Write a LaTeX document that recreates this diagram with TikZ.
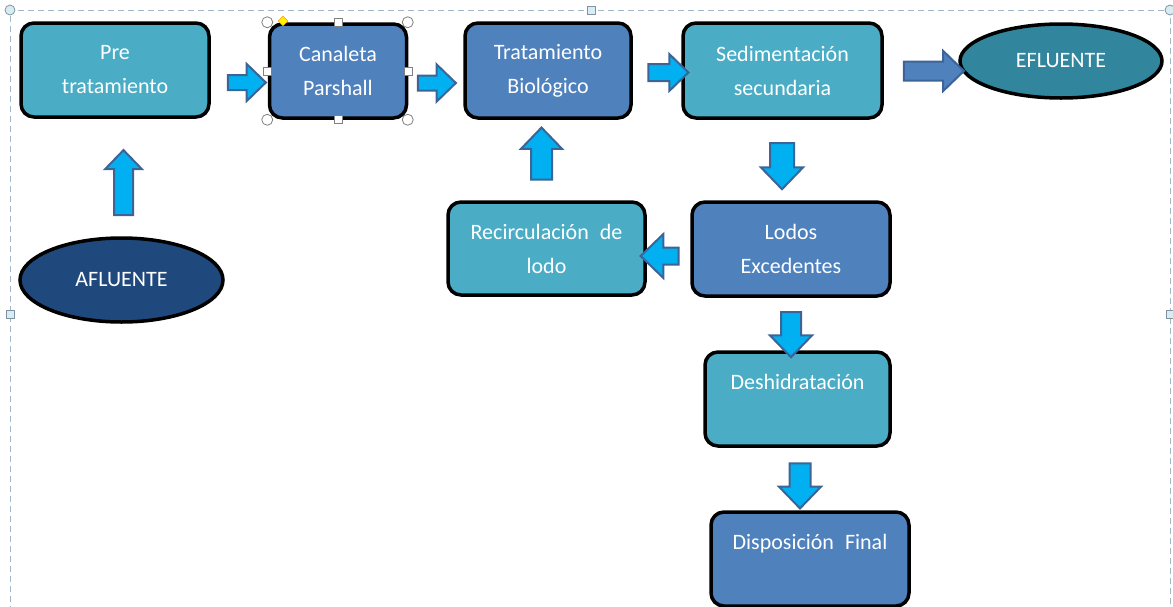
\documentclass[tikz,border=0pt]{standalone}
\usepackage{fontspec}
\setmainfont{Carlito}
\usetikzlibrary{shapes.geometric,shapes.arrows,calc}
\definecolor{CajaTurq}{HTML}{4BACC6}
\definecolor{CajaAzul}{HTML}{4F81BD}
\definecolor{ElipOsc}{HTML}{1F497D}
\definecolor{ElipTeal}{HTML}{31859C}
\definecolor{FlechaRelleno}{HTML}{00B0F0}
\definecolor{FlechaBorde}{HTML}{3D6496}
\definecolor{MarcoSel}{HTML}{A3B6C9}
\definecolor{ManijaSel}{HTML}{D8ECF3}
\tikzset{
  proceso/.style = {draw, line width=3.5pt, rounded corners=13pt, align=center,
                    text=white, font=\fontsize{22}{34}\selectfont, inner sep=0pt},
  turq/.style    = {proceso, fill=CajaTurq},
  azul/.style    = {proceso, fill=CajaAzul},
  extremo/.style = {draw, ellipse, line width=3.5pt, text=white,
                    font=\fontsize{22}{34}\selectfont, inner sep=0pt},
  % grueso del cuerpo / ancho de la punta / largo total
  bloque/.style n args = {3}{single arrow, draw=FlechaBorde, line width=2pt,
                    fill=FlechaRelleno, inner sep=#1/2,
                    single arrow head extend=(#2-#1)/2, minimum height=#3,
                    single arrow tip angle=88},
  marco/.style   = {draw=MarcoSel, line width=1pt, dash pattern=on 6pt off 4pt},
  manija/.style  = {draw=gray, line width=0.8pt, fill=white},
  manijab/.style = {draw=MarcoSel!80!black, line width=0.8pt, fill=ManijaSel},
}

\begin{document}
\begin{tikzpicture}[x=1pt, y=-1pt]
  \useasboundingbox (0,0) rectangle (1173,606);

  % marco de seleccion
  \draw[marco] (10,612) -- (10,10) -- (1170,10) -- (1170,612);
  \node[manijab, circle, minimum size=10pt, inner sep=0pt] (sel1) at (10,10) {};
  \node[manijab, circle, minimum size=10pt, inner sep=0pt] (sel2) at (1170,10) {};
  \node[manijab, minimum size=8pt, inner sep=0pt] (sel3) at (591,10) {};
  \node[manijab, minimum size=8pt, inner sep=0pt] (sel4) at (10,314) {};
  \node[manijab, minimum size=8pt, inner sep=0pt] (sel5) at (1170,314) {};

  % etapas del proceso
  \node[turq, minimum width=188pt, minimum height=94pt] (pre) at (115,70) {Pre\\tratamiento};
  \node[azul, minimum width=137pt, minimum height=94pt] (canaleta) at (338,71) {Canaleta\\Parshall};
  \node[azul, minimum width=166pt, minimum height=95pt] (bio) at (548,70.5) {Tratamiento\\Biológico};
  \node[turq, minimum width=199pt, minimum height=95pt] (sedim) at (782.5,70.5) {Sedimentación\\secundaria};
  \node[extremo, fill=ElipTeal, minimum width=202pt, minimum height=74pt] (efluente) at (1061,61) {EFLUENTE};
  \node[extremo, fill=ElipOsc, minimum width=203pt, minimum height=84pt] (afluente) at (121.5,280) {AFLUENTE};
  \node[turq, minimum width=197pt, minimum height=93pt] (recirc) at (546.5,248.5) {Recirculación\enspace de\\lodo};
  \node[azul, minimum width=198pt, minimum height=94pt] (lodos) at (791,249) {Lodos\\Excedentes};
  \node[turq, minimum width=185pt, minimum height=94pt] (deshid) at (797.5,399) {Deshidratación\\\mbox{}};
  \node[azul, minimum width=198pt, minimum height=94pt] (dispos) at (810,559) {Disposición\enspace Final\\\mbox{}};

  % seleccion de la canaleta
  \draw[white, line width=0.8pt, dash pattern=on 3pt off 3pt, rounded corners=14pt]
    ($(canaleta.north west)+(-1.5,-1.5)$) rectangle ($(canaleta.south east)+(1.5,1.5)$);
  \foreach \pos in {north west, north east, south west, south east}
    \node[manija, circle, minimum size=11pt, inner sep=0pt] at ($(canaleta.\pos)+(-0.5,0)$) {};
  \foreach \pos in {north, south, west, east}
    \node[manija, minimum size=8pt, inner sep=0pt] at (canaleta.\pos) {};
  \node[draw=orange, fill=yellow, diamond, minimum size=10pt, inner sep=0pt] (ajuste) at (283,21) {};

  % flechas de bloque
  \node[bloque={13pt}{35pt}{38pt}] (f1) at (243,82.5) {};
  \node[bloque={13pt}{35pt}{38pt}] (f2) at (433,83) {};
  \node[bloque={15pt}{35pt}{40pt}] (f3) at (664,72.5) {};
  \node[bloque={17pt}{38pt}{60pt}, fill=CajaAzul] (f4) at (929,71) {};
  \node[bloque={17pt}{35pt}{65pt}, shape border rotate=90] (f5) at (123.5,187.5) {};
  \node[bloque={19pt}{39pt}{52pt}, shape border rotate=90] (f6) at (541.5,159) {};
  \node[bloque={22pt}{40pt}{46pt}, shape border rotate=270] (f7) at (782,160) {};
  \node[bloque={15pt}{42pt}{38pt}, shape border rotate=180] (f8) at (664,256) {};
  \node[bloque={18pt}{40pt}{45pt}, shape border rotate=270] (f9) at (791,329.5) {};
  \node[bloque={19pt}{40pt}{45pt}, shape border rotate=270] (f10) at (800,480.5) {};
\end{tikzpicture}
\end{document}
